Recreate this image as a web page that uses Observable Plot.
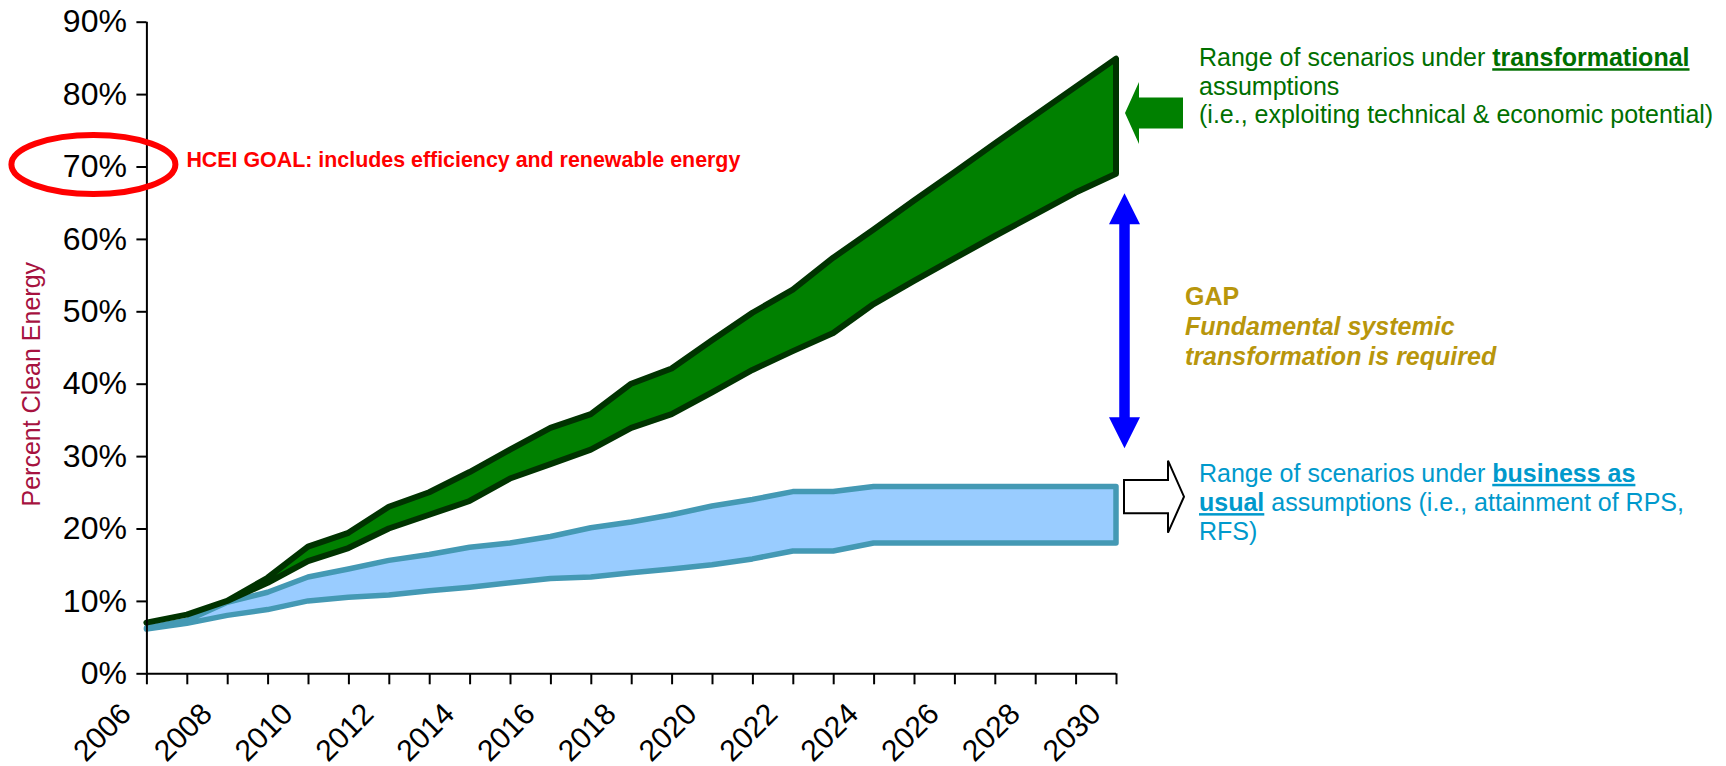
<!DOCTYPE html>
<html><head><meta charset="utf-8">
<script src="https://cdn.jsdelivr.net/npm/d3@7"></script>
<script src="https://cdn.jsdelivr.net/npm/@observablehq/plot@0.6"></script>
<style>
html,body{margin:0;padding:0;background:#fff;}
#chart svg{display:block;}
</style></head><body><div id="chart"></div>
<script>
const years = [2006, 2007, 2008, 2009, 2010, 2011, 2012, 2013, 2014, 2015, 2016, 2017, 2018,
  2019, 2020, 2021, 2022, 2023, 2024, 2025, 2026, 2027, 2028, 2029, 2030];
const xLabelYears = [2006, 2008, 2010, 2012, 2014, 2016, 2018, 2020, 2022, 2024, 2026, 2028, 2030];
const yTicks = [0, 10, 20, 30, 40, 50, 60, 70, 80, 90];

// Transformational scenarios (green band)
const greenHigh = [7.0, 8.1, 10.0, 13.2, 17.5, 19.4, 23.0, 25.0, 27.8, 30.9, 33.9, 35.8, 40.0,
  42.1, 46.0, 49.8, 53.0, 57.4, 61.3, 65.3, 69.2, 73.2, 77.1, 81.0, 84.9];
const greenLow = [7.0, 8.1, 10.0, 12.5, 15.5, 17.3, 20.0, 21.9, 23.8, 26.9, 28.9, 30.9, 33.9,
  35.8, 38.8, 41.9, 44.5, 47.0, 51.0, 54.2, 57.3, 60.4, 63.4, 66.4, 69.0];
// Business-as-usual scenarios (blue band)
const blueHigh = [6.3, 7.3, 9.8, 11.2, 13.3, 14.4, 15.6, 16.4, 17.4, 18.0, 18.9, 20.1, 20.9,
  21.9, 23.1, 24.0, 25.1, 25.1, 25.8, 25.8, 25.8, 25.8, 25.8, 25.8, 25.8];
const blueLow = [6.1, 6.9, 8.0, 8.8, 10.0, 10.5, 10.8, 11.4, 11.9, 12.5, 13.1, 13.3, 13.9,
  14.4, 15.0, 15.8, 16.9, 16.9, 18.0, 18.0, 18.0, 18.0, 18.0, 18.0, 18.0];

const goalText = "HCEI GOAL: includes efficiency and renewable energy";
const yTitle = "Percent Clean Energy";
const greenLines = [
  [{t: "Range of scenarios under "}, {t: "transformational", b: true, u: true}],
  [{t: "assumptions"}],
  [{t: "(i.e., exploiting technical & economic potential)"}]
];
const gapLines = [
  [{t: "GAP", b: true}],
  [{t: "Fundamental systemic", b: true, i: true}],
  [{t: "transformation is required", b: true, i: true}]
];
const blueLines = [
  [{t: "Range of scenarios under "}, {t: "business as", b: true, u: true}],
  [{t: "usual", b: true, u: true}, {t: " assumptions (i.e., attainment of RPS,"}],
  [{t: "RFS)"}]
];

const data = years.map((year, i) => ({
  year, greenLow: greenLow[i], greenHigh: greenHigh[i], blueLow: blueLow[i], blueHigh: blueHigh[i]
}));

const FONT = "'Liberation Sans', Arial, Helvetica, sans-serif";

function writeLines(g, lines, x, y0, lh, color, size) {
  lines.forEach((line, k) => {
    const t = g.append("text").attr("x", x).attr("y", y0 + k * lh)
      .attr("text-anchor", "start").attr("fill", color).attr("font-size", size);
    line.forEach(seg => {
      const s = t.append("tspan").text(seg.t);
      if (seg.b) s.attr("font-weight", "bold");
      if (seg.i) s.attr("font-style", "italic");
      if (seg.u) s.attr("text-decoration", "underline");
    });
  });
}

function annotations(index, scales) {
  const sx = scales.x, sy = scales.y;
  const g = d3.create("svg:g").attr("font-family", FONT).attr("text-anchor", "start");
  const xr = sx(2030);
  // goal ellipse around 70%
  g.append("ellipse").attr("cx", sx(2006) - 53).attr("cy", sy(70) - 2)
    .attr("rx", 82).attr("ry", 29.5).attr("fill", "none")
    .attr("stroke", "#FF0000").attr("stroke-width", 6);
  g.append("text").attr("x", sx(2006) + 40).attr("y", sy(70) + 0.5).attr("text-anchor", "start")
    .attr("fill", "#FF0000").attr("font-size", 21.4).attr("font-weight", "bold").text(goalText);
  // green block arrow pointing left
  const gy = sy(77.4);
  g.append("path").attr("fill", "#008000").attr("d",
    `M${xr + 9},${gy} L${xr + 23},${gy - 31} L${xr + 23},${gy - 15.5} L${xr + 67},${gy - 15.5} ` +
    `L${xr + 67},${gy + 15.5} L${xr + 23},${gy + 15.5} L${xr + 23},${gy + 31} Z`);
  // blue double arrow
  const bx = xr + 8.5, yt = sy(66.3), yb = sy(31.1), hw = 15.5, sw = 5.25, hl = 31;
  g.append("path").attr("fill", "#0000FF").attr("d",
    `M${bx},${yt} L${bx + hw},${yt + hl} L${bx + sw},${yt + hl} L${bx + sw},${yb - hl} L${bx + hw},${yb - hl} ` +
    `L${bx},${yb} L${bx - hw},${yb - hl} L${bx - sw},${yb - hl} L${bx - sw},${yt + hl} L${bx - hw},${yt + hl} Z`);
  // white block arrow pointing right
  const wy = sy(24.4);
  g.append("path").attr("fill", "#fff").attr("stroke", "#000").attr("stroke-width", 2)
    .attr("stroke-linejoin", "miter").attr("d",
    `M${xr + 8},${wy - 16.7} L${xr + 52},${wy - 16.7} L${xr + 52},${wy - 36} L${xr + 68},${wy} ` +
    `L${xr + 52},${wy + 36} L${xr + 52},${wy + 16.7} L${xr + 8},${wy + 16.7} Z`);
  writeLines(g, greenLines, xr + 83, sy(83.85), 28.3, "#006F00", 25);
  writeLines(g, gapLines, xr + 69, sy(50.85), 30, "#B8960C", 25);
  writeLines(g, blueLines, xr + 83, sy(26.45), 29.3, "#0099CC", 25);
  return g.node();
}

const chart = Plot.plot({
  width: 1726, height: 766,
  marginLeft: 146.4, marginRight: 610, marginTop: 21.7, marginBottom: 92.7,
  x: {domain: [2006, 2030]},
  y: {domain: [0, 90]},
  style: {fontFamily: FONT, background: "#fff", color: "#000", overflow: "visible"},
  marks: [
    Plot.areaY(data, {x: "year", y1: "blueLow", y2: "blueHigh", fill: "#99CCFF",
      stroke: "#4499B4", strokeWidth: 5.5, strokeLinejoin: "round"}),
    Plot.areaY(data, {x: "year", y1: "greenLow", y2: "greenHigh", fill: "#008000",
      stroke: "#003300", strokeWidth: 6, strokeLinejoin: "round"}),
    Plot.ruleX([2006], {stroke: "#000", strokeWidth: 2}),
    Plot.ruleY([0], {stroke: "#000", strokeWidth: 2}),
    Plot.axisY({ticks: yTicks, tickFormat: d => d + "%", tickSize: 10, tickPadding: 10,
      fontSize: 32, strokeWidth: 2, label: null}),
    Plot.axisX({ticks: years, tickFormat: () => "", tickSize: 11, strokeWidth: 2, label: null}),
    Plot.text(xLabelYears, {x: d => d, frameAnchor: "bottom", text: d => String(d), rotate: -45,
      textAnchor: "end", lineAnchor: "bottom", dx: -14, dy: 42, fontSize: 30, fill: "#000"}),
    Plot.text([{label: yTitle, v: 40}], {y: "v", text: "label", frameAnchor: "left", dx: -107,
      rotate: -90, textAnchor: "middle", lineAnchor: "bottom", fontSize: 25, fill: "#A6123F"}),
    annotations
  ]
});
document.getElementById("chart").appendChild(chart);
</script></body></html>
